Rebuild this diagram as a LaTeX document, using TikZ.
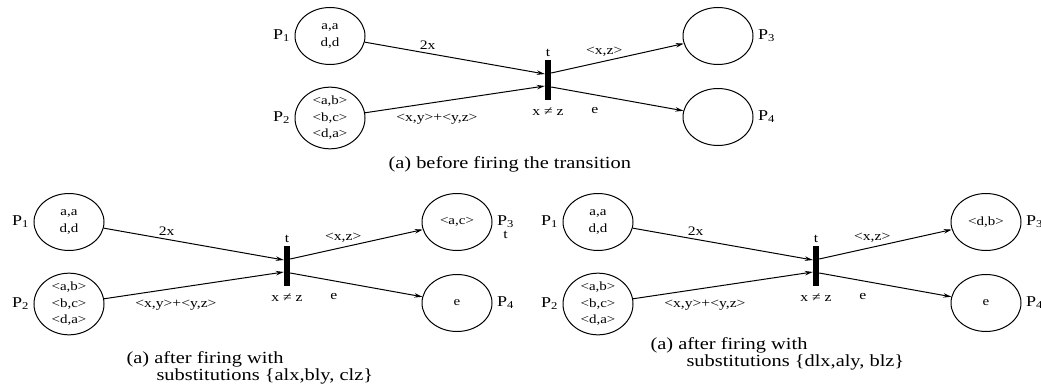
\documentclass[tikz,border=0pt]{standalone}
\usepackage{fontspec}
\setmainfont[FakeStretch=1.2]{Liberation Serif}
\usetikzlibrary{shapes.geometric,arrows.meta}

\begin{document}
\begin{tikzpicture}[x=1pt, y=-1pt,
      font=\fontsize{13}{15}\selectfont,
      place/.style={ellipse, draw, line width=1pt, minimum width=70pt,
        minimum height=57pt, inner sep=0pt, align=center,
        font=\fontsize{12.5}{16.5}\selectfont},
      trans/.style={rectangle, fill=black, minimum width=6pt,
        minimum height=40pt, inner sep=0pt},
      arc/.style={line width=1pt, -{Stealth[length=8pt,width=4.5pt]}},
      plabel/.style={font=\fontsize{15}{15}\selectfont},
      caption/.style={align=left, anchor=north west,
        font=\fontsize{17}{17}\selectfont}]
  \useasboundingbox (0,0) rectangle (1041,385);
  \foreach \n/\sx/\sy/\mthree/\mfour in
      {a/330/36/{}/{}, b/69/222/{<a,c>}/e, c/598/222/{<d,b>}/e} {
    \begin{scope}[shift={(\sx,\sy)}]
      \node[place] (\n-p1) at (0,0) {a,a\\d,d};
      \node[place] (\n-p2) at (0,82) {<a,b>\\<b,c>\\<d,a>};
      \node[trans] (\n-t) at (218,44) {};
      \node[place] (\n-p3) at (388,0) {\mthree};
      \node[place] (\n-p4) at (388,81) {\mfour};
      \node[plabel, left=1pt] (\n-l1) at (\n-p1.west) {P\textsubscript{1}};
      \node[plabel, left=1pt] (\n-l2) at (\n-p2.west) {P\textsubscript{2}};
      \node[plabel, right=1pt] (\n-l3) at (\n-p3.east) {P\textsubscript{3}};
      \node[plabel, right=1pt] (\n-l4) at (\n-p4.east) {P\textsubscript{4}};
      \node[above] (\n-tl) at (\n-t.north) {t};
      \node[below=4pt] (\n-g) at (\n-t.south) {x ≠ z};
      \draw[arc] (\n-p1) -- ([yshift=6pt]\n-t.west)
        node[pos=0.35, above] {2x};
      \draw[arc] (\n-p2) -- ([yshift=-6pt]\n-t.west)
        node[pos=0.4, below=8pt] {<x,y>+<y,z>};
      \draw[arc] ([yshift=7pt]\n-t.east) -- (\n-p3)
        node[pos=0.4, above=1pt] {<x,z>};
      \draw[arc] ([yshift=-7pt]\n-t.east) -- (\n-p4)
        node[pos=0.33, below=9pt] {e};
    \end{scope}
  }
  \node[below=-4pt] (b-tx) at (b-l3.south) {t};
  \node[caption] (cap-a) at (385,153) {(a) before firing the transition};
  \node[caption] (cap-b) at (123,348)
    {(a) after firing with\\\hspace*{30pt}substitutions \{alx,bly, clz\}};
  \node[caption] (cap-c) at (647,334)
    {(a) after firing with\\\hspace*{36pt}substitutions \{dlx,aly, blz\}};
\end{tikzpicture}
\end{document}
